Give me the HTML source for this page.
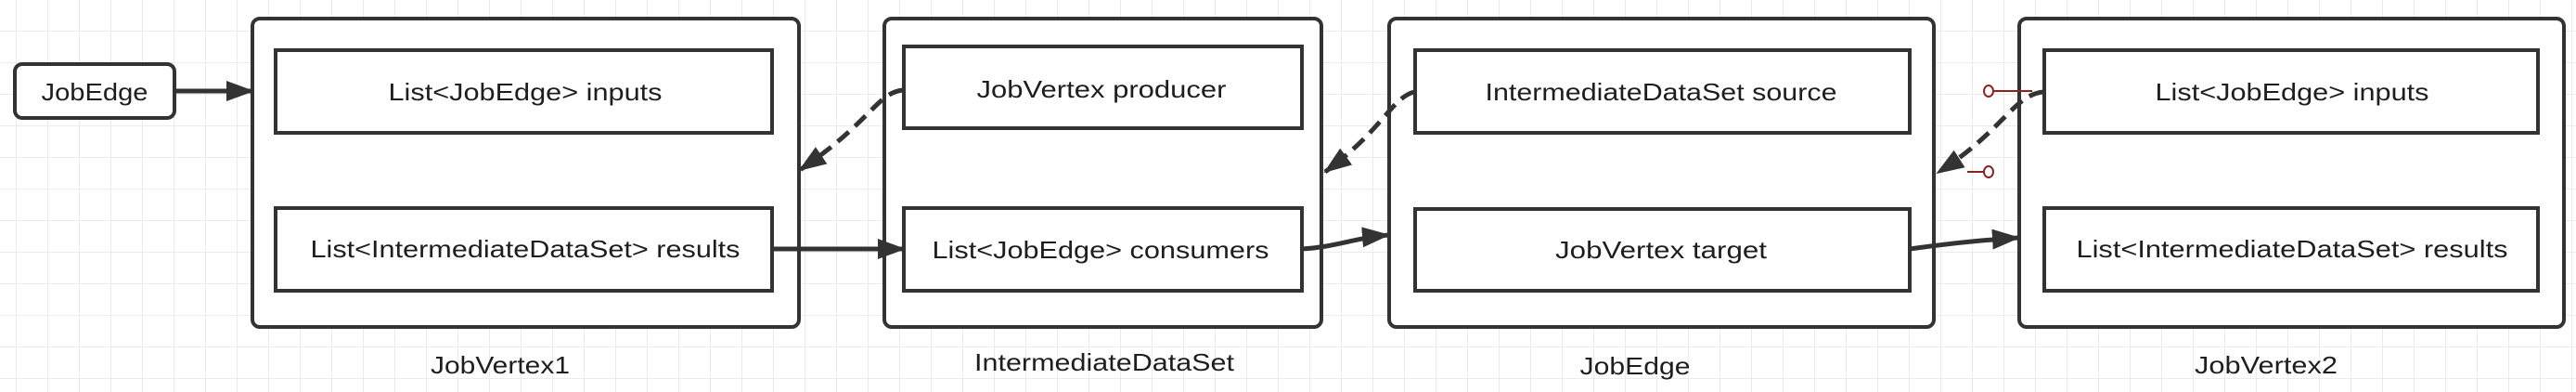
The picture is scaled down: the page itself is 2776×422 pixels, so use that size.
<!DOCTYPE html>
<html><head><meta charset="utf-8"><style>
html,body{margin:0;padding:0;background:#fff;}
svg{display:block;}
text{font-family:"Liberation Sans",Arial,sans-serif;font-size:26px;fill:#1e1e1e;}
</style></head><body>
<svg width="2776" height="422" viewBox="0 0 2776 422" xmlns="http://www.w3.org/2000/svg">
<defs>
<pattern id="g" x="17" y="-1" width="34" height="34" patternUnits="userSpaceOnUse">
<path d="M0 0V34M0 0H34" stroke="#ebebeb" stroke-width="2" fill="none"/>
</pattern>
<marker id="a" markerWidth="30" markerHeight="22" refX="28" refY="11" orient="auto" markerUnits="userSpaceOnUse" viewBox="0 0 30 22">
<path d="M0 0L30 11L0 22Z" fill="#333"/>
</marker>
</defs>
<rect width="2776" height="422" fill="#fff"/>
<rect width="2776" height="422" fill="url(#g)"/>

<g fill="#fff" stroke="#333" stroke-width="4">
<rect x="16" y="69" width="172" height="58" rx="8"/>
<rect x="272" y="20" width="589" height="332" rx="8"/>
<rect x="297" y="54" width="535" height="89"/>
<rect x="297" y="224" width="535" height="89"/>
<rect x="953" y="20" width="471" height="332" rx="8"/>
<rect x="974" y="50" width="429" height="88"/>
<rect x="974" y="224" width="429" height="89"/>
<rect x="1497" y="20" width="587" height="332" rx="8"/>
<rect x="1525" y="54" width="533" height="89"/>
<rect x="1525" y="225" width="533" height="88"/>
<rect x="2176" y="20" width="587" height="332" rx="8"/>
<rect x="2203" y="54" width="532" height="89"/>
<rect x="2203" y="224" width="532" height="89"/>
</g>

<g stroke="#333" stroke-width="5" fill="none">
<path d="M188 98H272" marker-end="url(#a)"/>
<path d="M832 268H974" marker-end="url(#a)"/>
<path d="M1403 268C1440 266 1460 256 1496 253" marker-end="url(#a)"/>
<path d="M2058 268C2100 262 2140 258 2175 256" marker-end="url(#a)"/>
<path d="M973 97C945 100 940 130 862 183" stroke-dasharray="16 9" marker-end="url(#a)"/>
<path d="M1524 99C1500 105 1490 140 1428 185" stroke-dasharray="16 9" marker-end="url(#a)"/>
<path d="M2202 99C2170 102 2160 140 2088 186" stroke-dasharray="16 9" marker-end="url(#a)"/>
</g>
<g stroke="#8b2323" stroke-width="2" fill="#fff">
<path d="M2148 98H2190M2148 185H2120" fill="none"/>
<ellipse cx="2143" cy="98" rx="5" ry="6"/>
<ellipse cx="2143" cy="185" rx="5" ry="6"/>
</g>

<g text-anchor="middle" dominant-baseline="central">
<text x="102" y="99" textLength="115" lengthAdjust="spacingAndGlyphs">JobEdge</text>
<text x="566" y="99" textLength="295" lengthAdjust="spacingAndGlyphs">List&lt;JobEdge&gt; inputs</text>
<text x="566" y="268" textLength="463" lengthAdjust="spacingAndGlyphs">List&lt;IntermediateDataSet&gt; results</text>
<text x="539" y="393" textLength="150" lengthAdjust="spacingAndGlyphs">JobVertex1</text>
<text x="1187" y="96" textLength="269" lengthAdjust="spacingAndGlyphs">JobVertex producer</text>
<text x="1186" y="269" textLength="363" lengthAdjust="spacingAndGlyphs">List&lt;JobEdge&gt; consumers</text>
<text x="1190" y="390" textLength="280" lengthAdjust="spacingAndGlyphs">IntermediateDataSet</text>
<text x="1790" y="99" textLength="379" lengthAdjust="spacingAndGlyphs">IntermediateDataSet source</text>
<text x="1790" y="269" textLength="228" lengthAdjust="spacingAndGlyphs">JobVertex target</text>
<text x="1762" y="394" textLength="119" lengthAdjust="spacingAndGlyphs">JobEdge</text>
<text x="2470" y="99" textLength="295" lengthAdjust="spacingAndGlyphs">List&lt;JobEdge&gt; inputs</text>
<text x="2470" y="268" textLength="465" lengthAdjust="spacingAndGlyphs">List&lt;IntermediateDataSet&gt; results</text>
<text x="2442" y="393" textLength="154" lengthAdjust="spacingAndGlyphs">JobVertex2</text>
</g>
</svg>
</body></html>
